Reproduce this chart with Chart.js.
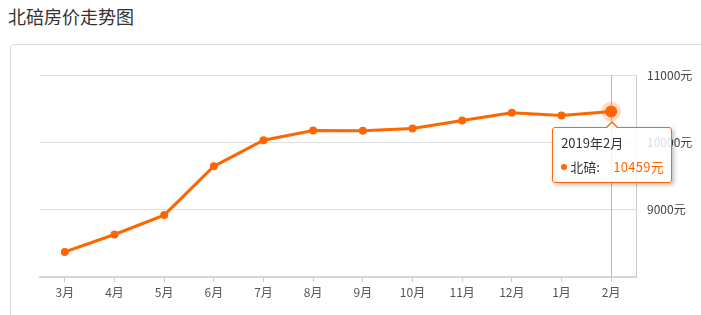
<!DOCTYPE html>
<html>
<head>
<meta charset="utf-8">
<script src="https://cdn.jsdelivr.net/npm/chart.js@4/dist/chart.umd.min.js"></script>
<style>
  html, body { margin: 0; padding: 0; background: #fff; width: 701px; height: 315px; overflow: hidden; font-family: 'Noto Sans CJK SC', 'Noto Sans', sans-serif; }
  #title { position: absolute; left: 8px; top: 4px; font-size: 18px; line-height: 24px; color: #333; }
  #panel { position: absolute; left: 10px; top: 44px; width: 740px; height: 320px; border: 1px solid #dcdcdc; border-radius: 4px; box-sizing: border-box; }
  #wrap { position: absolute; left: 0; top: 0; width: 701px; height: 315px; }
  #tip { position: absolute; width: 120px; height: 56px; box-sizing: border-box; border: 1px solid #ff6600; border-radius: 3px; background: rgba(255,255,255,0.82); box-shadow: 2px 2px 4px rgba(0,0,0,0.25); font-size: 13px; color: #333; }
  #tip .caret-o { position: absolute; left: 53px; top: -7px; width: 0; height: 0; border-left: 6px solid transparent; border-right: 6px solid transparent; border-bottom: 6px solid #ff6600; }
  #tip .caret-i { position: absolute; left: 54px; top: -5px; width: 0; height: 0; border-left: 5px solid transparent; border-right: 5px solid transparent; border-bottom: 5px solid #fff; }
  #tip .t { position: absolute; left: 8px; top: 7px; line-height: 16px; white-space: nowrap; }
  #tip .b { position: absolute; left: 8px; top: 31px; line-height: 16px; white-space: nowrap; }
  #tip .dot { display: inline-block; width: 6px; height: 6px; border-radius: 3px; background: #ff6600; vertical-align: 2px; margin-right: 3px; }
  #tip .v { position: absolute; left: 52px; top: 0; color: #ff6600; letter-spacing: 0.3px; }
</style>
</head>
<body>
<div id="title">北碚房价走势图</div>
<div id="panel"></div>
<div id="wrap"><canvas id="c" width="701" height="315"></canvas></div>
<div id="tip"><div class="caret-o"></div><div class="caret-i"></div><div class="t" id="tipTitle"></div><div class="b"><span class="dot"></span><span id="tipName"></span><span class="v" id="tipVal"></span></div></div>
<script>
const months = ['3月','4月','5月','6月','7月','8月','9月','10月','11月','12月','1月','2月'];
const prices = [8372, 8631, 8919, 9644, 10032, 10175, 10172, 10205, 10324, 10440, 10400, 10459];
const seriesName = '北碚';
const activeIndex = 11;
const activeLabel = '2019年2月';
const yMin = 8000, yMax = 11000, yStep = 1000;

const ORANGE = '#ff6600';
const FONT = "'Noto Sans CJK SC', 'Noto Sans', sans-serif";

const crosshair = {
  id: 'crosshair',
  beforeDatasetsDraw(chart) {
    const pt = chart.getDatasetMeta(0).data[activeIndex];
    const ca = chart.chartArea;
    const ctx = chart.ctx;
    ctx.save();
    ctx.strokeStyle = '#bbbbbb';
    ctx.lineWidth = 1;
    ctx.beginPath();
    const x = Math.round(pt.x) + 0.5;
    ctx.moveTo(x, ca.top);
    ctx.lineTo(x, ca.bottom);
    ctx.stroke();
    ctx.restore();
  }
};

const chart = new Chart(document.getElementById('c'), {
  type: 'line',
  data: {
    labels: months,
    datasets: [{
      label: seriesName,
      data: prices,
      borderColor: ORANGE,
      backgroundColor: ORANGE,
      borderWidth: 3,
      pointRadius: 4,
      pointBackgroundColor: ORANGE,
      pointBorderWidth: 0,
      pointHoverRadius: 6,
      pointHoverBackgroundColor: ORANGE,
      pointHoverBorderColor: 'rgba(255,102,0,0.22)',
      pointHoverBorderWidth: 8,
      tension: 0,
      fill: false
    }]
  },
  options: {
    responsive: false,
    animation: false,
    events: [],
    layout: { padding: { left: 40, top: 75, right: 0, bottom: 0 } },
    plugins: { legend: { display: false }, tooltip: { enabled: false } },
    scales: {
      x: {
        offset: true,
        afterFit(s) { s.height = 38; },
        grid: { drawOnChartArea: false, drawTicks: true, tickLength: 5, offset: false, color: '#cccccc' },
        border: { display: true, color: '#d6d6d6', width: 2 },
        ticks: { color: '#555', font: { family: FONT, size: 12 }, padding: 3, maxRotation: 0, autoSkip: false }
      },
      y: {
        position: 'right',
        min: yMin, max: yMax,
        afterFit(s) { s.width = 65; },
        grid: { color: '#dedede', lineWidth: 1, drawTicks: false },
        border: { display: true, color: '#cccccc', width: 1 },
        ticks: {
          stepSize: yStep,
          padding: 11,
          color: '#444',
          font: { family: FONT, size: 12 },
          callback: v => v === yMin ? '' : v + '元'
        }
      }
    }
  },
  plugins: [crosshair]
});

chart.setActiveElements([{ datasetIndex: 0, index: activeIndex }]);
chart.update();

const pt = chart.getDatasetMeta(0).data[activeIndex];
const tip = document.getElementById('tip');
document.getElementById('tipTitle').textContent = activeLabel;
document.getElementById('tipName').textContent = seriesName + ':';
document.getElementById('tipVal').textContent = prices[activeIndex] + '元';
tip.style.left = (pt.x - 59) + 'px';
tip.style.top = (pt.y + 16) + 'px';
</script>
</body>
</html>
